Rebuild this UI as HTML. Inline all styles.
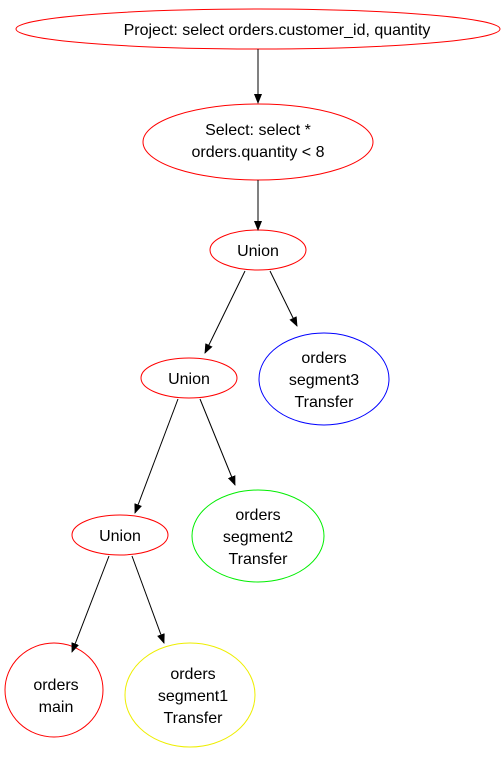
<!DOCTYPE html>
<html><head><meta charset="utf-8"><style>body{margin:0;background:#fff}</style></head><body>
<svg width="501" height="755" viewBox="0 0 501 755" xmlns="http://www.w3.org/2000/svg" font-family="Liberation Sans, sans-serif" font-size="16" text-anchor="middle">
<defs><marker id="a" markerWidth="10" markerHeight="8" refX="9" refY="4" orient="auto" markerUnits="userSpaceOnUse"><path d="M0,0 L10,4 L0,8 z" fill="#000"/></marker></defs>
<g fill="none" stroke-width="1">
<ellipse cx="258" cy="29" rx="242" ry="20" stroke="red"/>
<ellipse cx="258" cy="142" rx="115" ry="38" stroke="red"/>
<ellipse cx="258" cy="250" rx="48" ry="20" stroke="red"/>
<ellipse cx="189" cy="378" rx="48" ry="20" stroke="red"/>
<ellipse cx="324" cy="379" rx="65" ry="46" stroke="blue"/>
<ellipse cx="120" cy="535" rx="48" ry="20" stroke="red"/>
<ellipse cx="258" cy="536" rx="66" ry="46" stroke="#0e0"/>
<ellipse cx="54" cy="690" rx="49" ry="47" stroke="red"/>
<ellipse cx="190" cy="695" rx="65" ry="52" stroke="#ee0"/>
</g>
<g stroke="#000" marker-end="url(#a)">
<line x1="258" y1="49" x2="258" y2="103"/>
<line x1="258" y1="180" x2="258" y2="230"/>
<line x1="245" y1="271" x2="205" y2="353"/>
<line x1="270" y1="271" x2="297" y2="326"/>
<line x1="178" y1="399" x2="135" y2="513"/>
<line x1="200" y1="399" x2="235" y2="485"/>
<line x1="109" y1="556" x2="72" y2="652"/>
<line x1="132" y1="556" x2="164" y2="643"/>
</g>
<g fill="#000">
<text x="277" y="35">Project: select orders.customer_id, quantity</text>
<text x="258" y="135">Select: select *</text>
<text x="258" y="157">orders.quantity &lt; 8</text>
<text x="258" y="256">Union</text>
<text x="189" y="384">Union</text>
<text x="120" y="541">Union</text>
<text x="324" y="363">orders</text><text x="324" y="385">segment3</text><text x="324" y="407">Transfer</text>
<text x="258" y="520">orders</text><text x="258" y="542">segment2</text><text x="258" y="564">Transfer</text>
<text x="56" y="690">orders</text><text x="56" y="712">main</text>
<text x="193" y="679">orders</text><text x="193" y="701">segment1</text><text x="193" y="723">Transfer</text>
</g>
</svg>
</body></html>
